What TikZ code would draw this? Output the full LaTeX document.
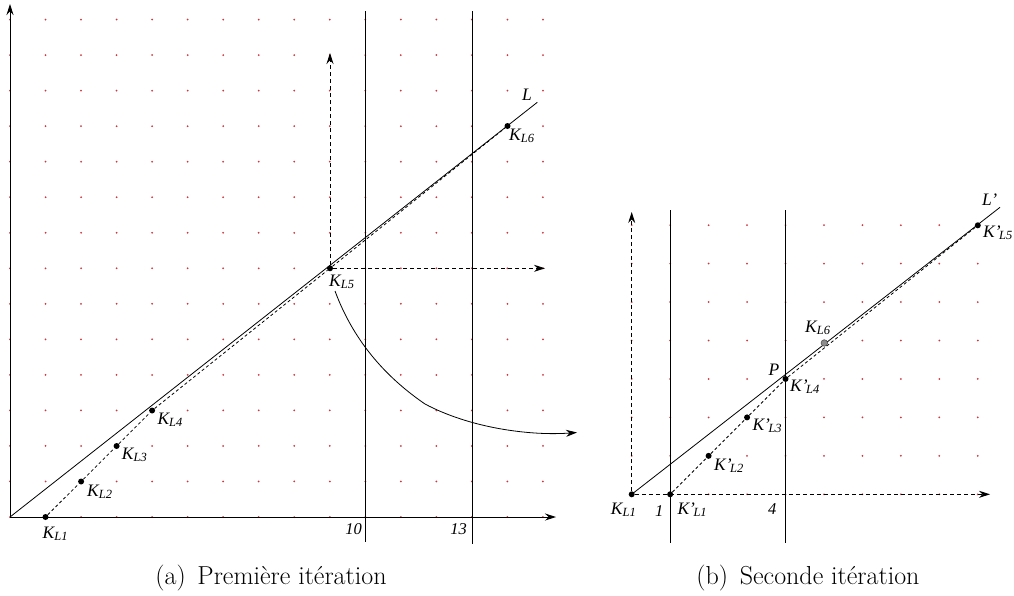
\documentclass[tikz,border=0pt]{standalone}
\usepackage{fontspec}
\newfontfamily\tms{Liberation Serif}
\usetikzlibrary{arrows.meta}
\newcommand\kk[2]{{\tms\itshape\fontsize{17.5}{20}\selectfont #1\raisebox{-2.2pt}{\fontsize{12.5}{14}\selectfont #2}}}
\newcommand\nn[1]{{\tms\itshape\fontsize{16.5}{18}\selectfont #1}}
\definecolor{dotc}{RGB}{205,55,65}
\tikzset{
  pt/.style={circle,fill=black,inner sep=0pt,minimum size=6pt},
  gpt/.style={circle,fill=black!45,draw=black!70,line width=0.6pt,inner sep=0pt,minimum size=6.5pt},
  lab/.style={inner sep=0pt,anchor=base west},
  labe/.style={inner sep=0pt,anchor=base east},
  capn/.style={inner sep=0pt,anchor=base},
  axis/.style={line width=0.9pt,-{Stealth[length=11pt,width=7pt]}},
  darr/.style={line width=0.9pt,dash pattern=on 4pt off 3pt,-{Stealth[length=11pt,width=7pt]}},
  dpath/.style={line width=0.8pt,dash pattern=on 3pt off 2.5pt},
  vline/.style={line width=0.9pt},
  thinl/.style={line width=0.8pt},
}
\begin{document}
\begin{tikzpicture}[x=1pt,y=-1pt]
\useasboundingbox (0,0) rectangle (1014,595);
% ---------- left grid of dots
\foreach \i in {0,...,15}{\foreach \j in {0,...,14}{
  \fill[dotc] ({10+35.53*\i},{517-35.53*\j}) circle (1pt);}}
% ---------- right grid of dots
\foreach \i in {0,...,9}{\foreach \j in {0,...,7}{
  \fill[dotc] ({631.7+38.45*\i},{494.3-38.45*\j}) circle (1pt);}}

% ================= LEFT =================
\coordinate (O) at (10,517);
\coordinate (xa) at (556,517);
\coordinate (ya) at (10,4);
\draw[axis] (O) -- (xa);
\draw[axis] (O) -- (ya);
\coordinate (v10t) at (365.5,11); \coordinate (v10b) at (365.5,542);
\coordinate (v13t) at (472.2,11); \coordinate (v13b) at (472.2,544);
\draw[vline] (v10t) -- (v10b);
\draw[vline] (v13t) -- (v13b);
\coordinate (Lend) at (537.3,102.3);
\draw[thinl] (O) -- (Lend);

\node[pt] (k1) at (45.5,517) {};
\node[pt] (k2) at (81.1,481.5) {};
\node[pt] (k3) at (116.6,446) {};
\node[pt] (k4) at (152.1,410.5) {};
\node[pt] (k5) at (330,268.3) {};
\node[pt] (k6) at (507.5,126) {};
\draw[dpath] (k1) -- (k2) -- (k3) -- (k4) -- (k5) -- (k6);

\coordinate (up5) at (330,53);
\coordinate (rt5) at (545,268.3);
\draw[darr] (k5) -- (up5);
\draw[darr] (k5) -- (rt5);

\coordinate (cs) at (335,291);
\coordinate (cm) at (425,404);
\coordinate (ce) at (577,432.5);
\draw[line width=0.8pt,-{Stealth[length=11pt,width=7pt]}] (cs) .. controls (355,345) and (390,380) .. (cm) .. controls (470,428) and (530,436) .. (ce);

\node[lab] (lk1) at (42.5,538) {\kk{K}{L1}};
\node[lab] (lk2) at (87,496) {\kk{K}{L2}};
\node[lab] (lk3) at (121.7,459.3) {\kk{K}{L3}};
\node[lab] (lk4) at (157.3,424.3) {\kk{K}{L4}};
\node[lab] (lk5) at (329,286.7) {\kk{K}{L5}};
\node[lab] (lk6) at (509,140.7) {\kk{K}{L6}};
\node[lab] (lL) at (522,100) {\kk{L}{}};
\node[labe] (n10) at (362,534.3) {\nn{10}};
\node[labe] (n13) at (467,534.3) {\nn{13}};

% ================= RIGHT =================
\node[pt] (q0) at (631.7,494.3) {};
\coordinate (up2) at (631.7,212);
\coordinate (rt2) at (990,494.3);
\draw[darr] (q0) -- (up2);
\draw[darr] (q0) -- (rt2);
\coordinate (w1t) at (670.15,210); \coordinate (w1b) at (670.15,543);
\coordinate (w4t) at (785.5,210); \coordinate (w4b) at (785.5,543);
\draw[vline] (w1t) -- (w1b);
\draw[vline] (w4t) -- (w4b);
\coordinate (Lend2) at (1000,207.3);
\draw[thinl] (q0.center) -- (Lend2);

\node[pt] (q1) at (670.15,494.3) {};
\node[pt] (q2) at (708.6,455.85) {};
\node[pt] (q3) at (747.05,417.4) {};
\node[pt] (q4) at (785.5,378.95) {};
\node[pt] (q5) at (977.8,225.3) {};
\node[gpt] (g6) at (824.3,343) {};
\draw[dpath] (q1) -- (q2) -- (q3) -- (q4) -- (q5);

\node[lab] (lq0) at (610.7,514.3) {\kk{K}{L1}};
\node[lab] (n1) at (655,516) {\nn{1}};
\node[lab] (lq1) at (677.3,514.3) {\kk{K’\kern-1.5pt}{L1}};
\node[lab] (n4) at (768,514.3) {\nn{4}};
\node[lab] (lq2) at (714,470) {\kk{K’\kern-1.5pt}{L2}};
\node[lab] (lq3) at (752.3,430.7) {\kk{K’\kern-1.5pt}{L3}};
\node[lab] (lq4) at (790,391) {\kk{K’\kern-1.5pt}{L4}};
\node[lab] (lP) at (768.3,375) {\kk{P}{}};
\node[lab] (lg6) at (805,332.3) {\kk{K}{L6}};
\node[lab] (lq5) at (983,237.3) {\kk{K’\kern-1.5pt}{L5}};
\node[lab] (lL2) at (982,205) {\kk{L’}{}};

% ================= captions =================
\node[capn] (capa) at (271,584) {\fontsize{26}{30}\selectfont (a)\hspace{0.45em}Première itération};
\node[capn] (capb) at (808,584) {\fontsize{26}{30}\selectfont (b)\hspace{0.45em}Seconde itération};
\end{tikzpicture}
\end{document}
